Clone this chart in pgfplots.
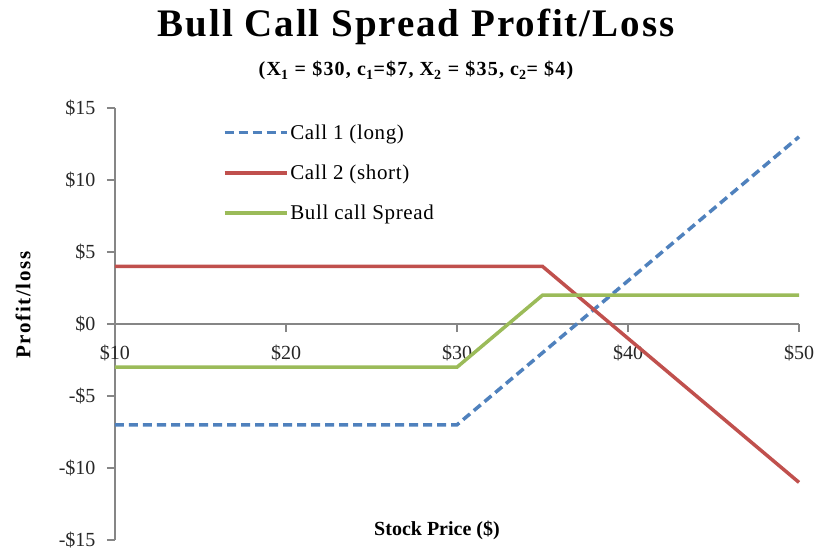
\documentclass[border=0pt]{standalone}
\usepackage{pgfplots}
\pgfplotsset{compat=1.18}
\usepackage{fontspec}
\setmainfont{Liberation Serif}
\definecolor{cblue}{HTML}{4F81BD}
\definecolor{cred}{HTML}{C0504D}
\definecolor{cgreen}{HTML}{9BBB59}
\definecolor{axgray}{HTML}{868686}
\begin{document}
\begin{tikzpicture}
\useasboundingbox (-115pt,-10pt) rectangle (707pt,540pt);
\begin{axis}[
  at={(0pt,0pt)}, anchor=south west, scale only axis,
  width=684pt, height=432pt,
  xmin=10, xmax=50, ymin=-15, ymax=15,
  axis x line=middle, axis y line=left,
  hide obscured x ticks=false, hide obscured y ticks=false,
  axis line style={axgray, line width=1.2pt, -},
  every tick/.style={axgray, line width=1.2pt},
  tick align=outside, major tick length=8pt,
  xtick={10,20,30,40,50},
  xticklabels={\$10,\$20,\$30,\$40,\$50},
  ytick={-15,-10,-5,0,5,10,15},
  yticklabels={-\$15,-\$10,-\$5,\$0,\$5,\$10,\$15},
  tick label style={font=\fontsize{20}{20}\selectfont, text=black!85},
  yticklabel style={xshift=-8pt},
  xticklabel style={yshift=-9pt},
  legend style={draw=none, fill=none, at={(rel axis cs:0.153,0.85)}, anchor=west,
    font=\fontsize{21}{21}\selectfont\addfontfeatures{LetterSpace=3}, row sep=20pt, cells={anchor=west}},
  legend image code/.code={\draw[#1] (0pt,0pt) -- (62pt,0pt);},
  legend cell align=left,
  clip=false,
]
\addplot[cblue, line width=3.5pt, dash pattern=on 9pt off 5pt] coordinates {(10,-7) (30,-7) (50,13)};
\addlegendentry{Call 1 (long)}
\addplot[cred, line width=3.5pt] coordinates {(10,4) (35,4) (50,-11)};
\addlegendentry{Call 2 (short)}
\addplot[cgreen, line width=3.5pt] coordinates {(10,-3) (30,-3) (35,2) (50,2)};
\addlegendentry{Bull call Spread}
\end{axis}
\node[font=\fontsize{39}{39}\selectfont\bfseries\addfontfeatures{LetterSpace=5}, anchor=base] at (301pt,503pt) {Bull Call Spread Profit/Loss};
\node[font=\fontsize{20}{20}\selectfont\bfseries\addfontfeatures{LetterSpace=6}, anchor=base] at (301pt,464pt) {(X\textsubscript{1} = \$30, c\textsubscript{1}=\$7, X\textsubscript{2} = \$35, c\textsubscript{2}= \$4)};
\node[font=\fontsize{21}{21}\selectfont\bfseries\addfontfeatures{LetterSpace=8}, rotate=90, anchor=center] at (-92pt,235pt) {Profit/loss};
\node[font=\fontsize{20}{20}\selectfont\bfseries, anchor=base] at (322pt,5pt) {Stock Price (\$)};
\end{tikzpicture}
\end{document}
